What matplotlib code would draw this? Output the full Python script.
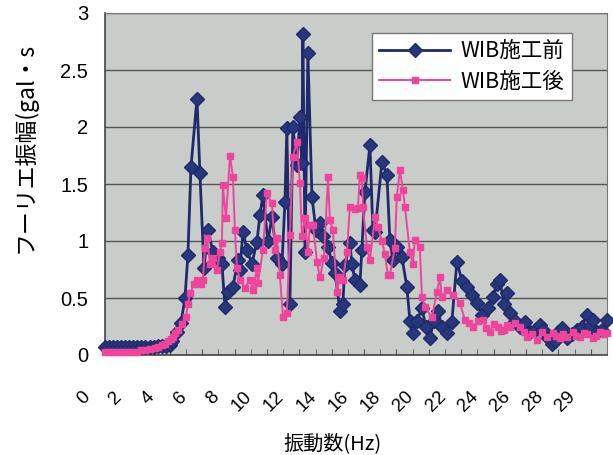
import numpy as np
import matplotlib
matplotlib.use("Agg")
import matplotlib.pyplot as plt
from matplotlib.ticker import MultipleLocator
from matplotlib.transforms import ScaledTranslation

plt.rcParams["font.family"] = ["Liberation Sans", "Noto Sans CJK JP", "DejaVu Sans"]

# WIB施工前 (before)
freq_before = [0.00, 0.25, 0.50, 0.75, 1.00, 1.25, 1.50, 1.75, 2.00, 2.25, 2.50, 2.75,
               3.00, 3.25, 3.50, 3.75, 4.00, 4.14, 4.44, 4.69, 4.94, 5.12, 5.31, 5.68,
               5.86, 6.11, 6.36, 6.67, 6.98, 7.22, 7.41, 7.59, 7.90, 8.21, 8.33, 8.52,
               8.77, 9.07, 9.38, 9.57, 9.75, 10.06, 10.31, 10.62, 10.93, 11.11, 11.23,
               11.42, 11.60, 11.85, 12.04, 12.16, 12.22, 12.35, 12.53, 12.78, 13.02,
               13.27, 13.46, 13.77, 14.01, 14.20, 14.51, 14.69, 14.81, 15.12, 15.25,
               15.43, 15.74, 15.86, 16.05, 16.36, 16.54, 16.67, 17.10, 17.41, 17.59,
               17.78, 18.02, 18.33, 18.64, 18.83, 19.01, 19.26, 19.57, 19.81, 20.06,
               20.31, 20.56, 20.80, 21.11, 21.42, 21.73, 22.04, 22.35, 22.65, 22.96,
               23.27, 23.64, 23.95, 24.20, 24.38, 24.63, 24.81, 25.00, 25.31, 25.62,
               25.93, 26.23, 26.54, 26.85, 27.04, 27.35, 27.59, 27.78, 27.96, 28.21,
               28.52, 28.83, 29.14, 29.44, 29.75, 29.94, 30.12, 30.37, 30.68, 30.99]
amp_before = [0.07, 0.07, 0.07, 0.07, 0.07, 0.07, 0.07, 0.07, 0.07, 0.07, 0.07, 0.07,
              0.07, 0.08, 0.08, 0.08, 0.09, 0.12, 0.20, 0.28, 0.50, 0.88, 1.65, 2.25,
              1.60, 0.76, 1.10, 0.90, 0.85, 0.80, 0.42, 0.55, 0.60, 0.83, 0.75, 1.08,
              0.92, 0.80, 0.99, 1.23, 1.40, 1.00, 1.21, 0.85, 0.80, 1.34, 1.99,
              0.45, 2.00, 1.67, 2.09, 1.68, 2.82, 0.90, 2.65, 1.39, 1.10,
              1.16, 1.04, 0.95, 0.81, 0.72, 0.39, 0.45, 0.79, 0.98, 0.80,
              0.66, 0.61, 0.92, 1.43, 1.84, 1.10, 1.08, 1.69, 1.58, 1.01,
              0.83, 0.95, 0.86, 0.60, 0.30, 0.19, 0.30, 0.41, 0.25, 0.15,
              0.30, 0.39, 0.25, 0.19, 0.29, 0.82, 0.65, 0.60, 0.53, 0.46,
              0.35, 0.41, 0.51, 0.62, 0.66, 0.45, 0.54, 0.37, 0.30, 0.25,
              0.29, 0.20, 0.22, 0.26, 0.22, 0.15, 0.10, 0.12, 0.20, 0.24,
              0.15, 0.18, 0.22, 0.25, 0.35, 0.25, 0.31, 0.20, 0.22, 0.31]

# WIB施工後 (after)
freq_after = [0.00, 0.25, 0.50, 0.75, 1.00, 1.25, 1.50, 1.75, 2.00, 2.25, 2.47, 2.75,
              3.09, 3.30, 3.52, 3.70, 3.89, 4.05, 4.20, 4.35, 4.51, 4.75, 5.00, 5.12,
              5.25, 5.49, 5.68, 5.93, 6.05, 6.17, 6.30, 6.48, 6.67, 6.91, 7.10, 7.22,
              7.28, 7.47, 7.72, 7.90, 8.02, 8.15, 8.33, 8.64, 8.95, 9.14, 9.38, 9.44,
              9.75, 10.00, 10.31, 10.49, 10.62, 10.80, 10.99, 11.23, 11.42, 11.60,
              11.85, 12.04, 12.16, 12.35, 12.53, 12.65, 12.84, 13.09, 13.27, 13.52,
              13.77, 13.89, 14.07, 14.32, 14.51, 14.69, 14.94, 15.12, 15.43, 15.62,
              15.74, 15.86, 15.93, 16.17, 16.36, 16.67, 16.85, 17.10, 17.28, 17.47,
              17.59, 17.90, 18.02, 18.21, 18.40, 18.52, 18.83, 19.01, 19.14, 19.44,
              19.57, 19.75, 20.19, 20.49, 20.68, 20.80, 21.11, 21.48, 21.91, 22.22,
              22.47, 22.72, 23.02, 23.33, 23.55, 23.77, 24.00, 24.26, 24.45, 24.63,
              24.80, 25.00, 25.31, 25.62, 25.85, 26.05, 26.36, 26.67, 26.98, 27.28,
              27.65, 27.85, 28.09, 28.30, 28.52, 28.89, 29.10, 29.32, 29.55, 29.75,
              30.12, 30.35, 30.56, 30.80, 30.99]
amp_after = [0.03, 0.03, 0.03, 0.03, 0.03, 0.03, 0.03, 0.03, 0.03, 0.04, 0.04, 0.05,
             0.06, 0.07, 0.09, 0.10, 0.12, 0.14, 0.16, 0.19, 0.22, 0.27, 0.33, 0.45,
             0.54, 0.62, 0.66, 0.62, 0.66, 0.94, 1.03, 0.80, 0.85, 0.75, 0.90, 0.98,
             1.49, 1.20, 1.75, 1.56, 1.10, 0.76, 0.66, 0.59, 0.66, 0.57, 0.76, 0.63,
             0.92, 1.42, 1.33, 0.92, 1.03, 0.70, 0.33, 0.37, 1.05, 1.74,
             1.87, 1.51, 1.04, 1.20, 0.90, 1.14, 1.14, 0.82, 0.68, 0.85,
             1.56, 1.18, 1.10, 0.55, 0.68, 0.66, 0.90, 1.30, 1.28, 1.29,
             1.58, 1.55, 1.30, 0.95, 0.83, 1.21, 1.12, 1.00, 0.89, 0.70,
             0.70, 0.94, 1.39, 1.62, 1.45, 1.30, 0.90, 0.80, 1.01, 0.95,
             0.51, 0.42, 0.33, 0.55, 0.68, 0.51, 0.57, 0.53, 0.46, 0.31,
             0.28, 0.25, 0.30, 0.31, 0.24, 0.20, 0.27, 0.25, 0.21, 0.22,
             0.26, 0.25, 0.28, 0.25, 0.20, 0.16, 0.18, 0.13, 0.20, 0.16,
             0.19, 0.17, 0.15, 0.18, 0.16, 0.20, 0.17, 0.16, 0.19, 0.18,
             0.15, 0.17, 0.20, 0.18, 0.19]

x_tick_pos = list(range(0, 31, 2))
x_tick_labels = ["0", "2", "4", "6", "8", "10", "12", "14", "16", "18", "20",
                 "22", "24", "26", "28", "29"]
y_ticks = [0, 0.5, 1, 1.5, 2, 2.5, 3]
y_tick_labels = ["0", "0.5", "1", "1.5", "2", "2.5", "3"]

navy = "#1e2a6c"
pink = "#f0449c"

fig = plt.figure(figsize=(6.13, 4.55), dpi=100)
ax = fig.add_axes([105 / 613, 100 / 455, 502 / 613, 342 / 455])
ax.set_facecolor("#c8cdc9")

ax.plot(freq_before, amp_before, color=navy, lw=2.0, marker="D", ms=7.2,
        mfc="#27377c", mec=navy, label="WIB施工前", clip_on=False, zorder=3)
ax.plot(freq_after, amp_after, color=pink, lw=1.4, marker="s", ms=4.8,
        mfc=pink, mec=pink, label="WIB施工後", clip_on=False, zorder=4)

ax.set_xlim(0, 31)
ax.set_ylim(0, 3)
ax.set_yticks(y_ticks)
ax.set_yticklabels(y_tick_labels, fontsize=14.5)
ax.set_xticks(x_tick_pos)
ax.set_xticklabels(x_tick_labels, fontsize=13.5, rotation=45, ha="right",
                   va="top", rotation_mode="anchor")
ax.xaxis.set_minor_locator(MultipleLocator(1))
ax.tick_params(axis="x", which="both", direction="in", length=4, color="#555555",
               pad=24)
ax.tick_params(axis="y", length=0, pad=12)
shift = ScaledTranslation(-24 / 100, 0, fig.dpi_scale_trans)
for lab in ax.get_xticklabels():
    lab.set_transform(lab.get_transform() + shift)

ax.grid(axis="y", color="#555555", lw=1.0)
ax.set_axisbelow(True)
for side in ["top", "right"]:
    ax.spines[side].set_color("#777777")
for side in ["left", "bottom"]:
    ax.spines[side].set_color("#444444")
    ax.spines[side].set_linewidth(1.2)

leg = ax.legend(loc="upper right", bbox_to_anchor=(0.952, 0.974),
                frameon=True, fancybox=False, edgecolor="#777777",
                handlelength=3.3, borderpad=0.35, labelspacing=0.4,
                handletextpad=0.5,
                prop={"family": ["Noto Sans CJK JP"], "size": 15.5})
leg.get_frame().set_facecolor("white")
leg.get_frame().set_alpha(1)

fig.text(25 / 613, 1 - 147 / 455, "フーリエ振幅(gal・s", rotation=90,
         ha="center", va="center", fontsize=16.5, family=["Noto Sans CJK JP"])
fig.text(333 / 613, 1 - 444 / 455, "振動数(Hz)", ha="center", va="center",
         fontsize=14.5, family=["Noto Sans CJK JP"])

fig.savefig("out.png", dpi=100)
